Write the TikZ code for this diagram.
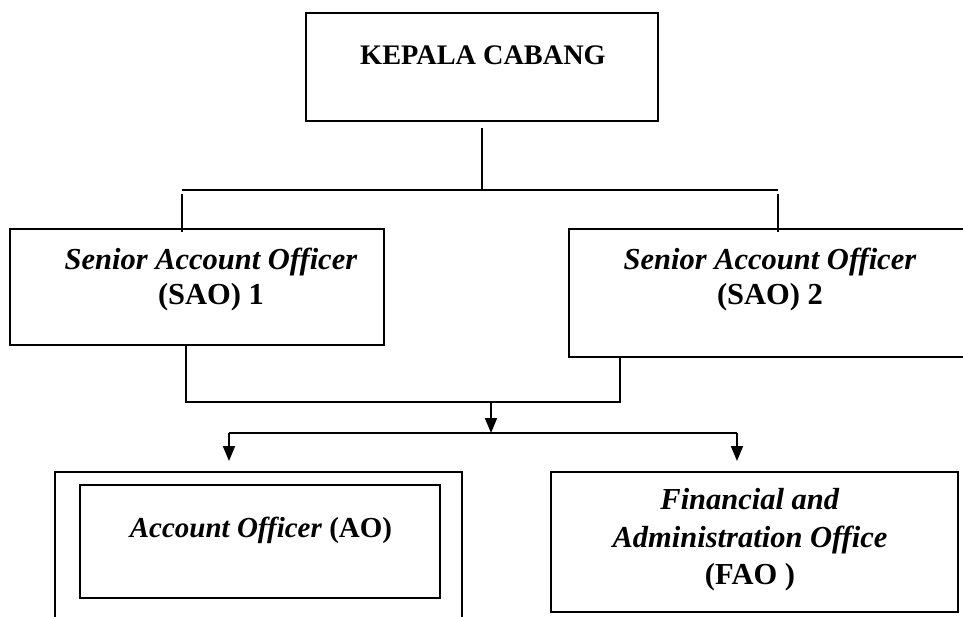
\documentclass[tikz,border=0pt]{standalone}
\usepackage{fontspec}
\setmainfont{Liberation Serif}
\usetikzlibrary{arrows.meta,calc}
\tikzset{
  box/.style={draw, line width=2pt, inner sep=0pt},
  lbl/.style={align=center, font=\fontsize{30.5}{35}\selectfont\bfseries, inner sep=0pt},
  conn/.style={line width=1.8pt},
  arr/.style={conn, -{Triangle[length=15pt,width=12pt]}}
}
\begin{document}
\begin{tikzpicture}[x=1pt,y=-1pt]
\clip (0,0) rectangle (963,616);
% boxes
\node[box, minimum width=352pt, minimum height=108pt] (kc) at (482,67) {};
\node[box, minimum width=374pt, minimum height=116pt] (sao1) at (197,287) {};
\node[box, minimum width=406pt, minimum height=128pt] (sao2) at (772,293) {};
\node[box, minimum width=407pt, minimum height=158pt] (aoout) at (258.5,551) {};
\node[box, minimum width=360pt, minimum height=113pt] (aoin) at (260,541.5) {};
\node[box, minimum width=407pt, minimum height=140pt] (fao) at (754.5,542) {};
% texts
\node[lbl, font=\fontsize{28.3}{34}\selectfont\bfseries] (kct) at (483,55) {KEPALA CABANG};
\node[lbl] (sao1t) at (211,280) {\textit{Senior Account Officer}\\(SAO) 1};
\node[lbl] (sao2t) at (770,280) {\textit{Senior Account Officer}\\(SAO) 2};
\node[lbl, font=\fontsize{29}{36}\selectfont\bfseries] (aot) at (261,530) {\textit{Account Officer} (AO)};
\node[lbl, font=\fontsize{30.5}{37.5}\selectfont\bfseries] (faot) at (750,540) {\textit{Financial and}\\\textit{Administration Office}\\(FAO )};
% coordinates
\coordinate (top) at ($(kc.south)+(0,6)$);
\coordinate (barL) at (182,190);
\coordinate (barR) at (778,190);
\coordinate (midL) at (186,402);
\coordinate (midR) at (620,402);
\coordinate (mid) at (491,402);
\coordinate (splitC) at (491,433);
\coordinate (splitL) at (229,433);
\coordinate (splitR) at (737,433);
% connectors
\draw[conn] (top) -- (kc.south |- barL);
\draw[conn] ([yshift=-4pt]barL) -- ([yshift=-4pt]barL |- sao1.north);
\draw[conn] ([yshift=-4pt]barR) -- ([yshift=-4pt]barR |- sao2.north);
\draw[conn] (barL) -- (barR);
\draw[conn] (midL |- sao1.south) -- (midL) -- (midR) -- (midR |- sao2.south);
\draw[arr] (mid) -- (splitC);
\draw[conn] (splitL) -- (splitR);
\draw[arr] (splitL) -- ($(splitL |- aoout.north)+(0,-10)$);
\draw[arr] (splitR) -- ($(splitR |- fao.north)+(0,-10)$);
\end{tikzpicture}
\end{document}
